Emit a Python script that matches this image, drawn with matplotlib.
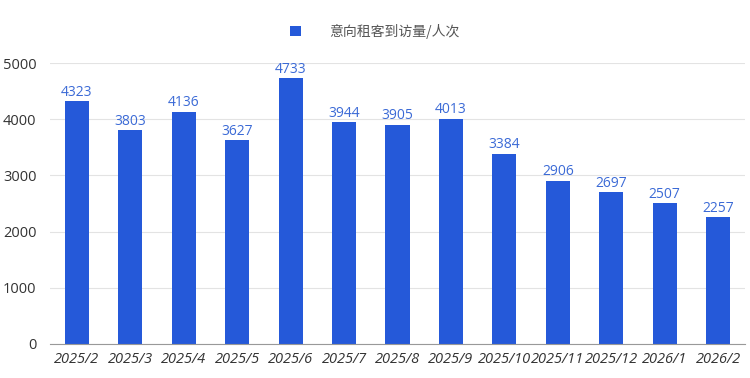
import matplotlib
matplotlib.use('Agg')
import matplotlib.pyplot as plt
import numpy as np

plt.rcParams['font.family'] = ['Open Sans', 'Noto Sans CJK SC', 'DejaVu Sans']

MONTHS = ['2025/2', '2025/3', '2025/4', '2025/5', '2025/6', '2025/7', '2025/8',
          '2025/9', '2025/10', '2025/11', '2025/12', '2026/1', '2026/2']
VISITS = [4323, 3803, 4136, 3627, 4733, 3944, 3905, 4013, 3384, 2906, 2697, 2507, 2257]
SERIES = '意向租客到访量/人次'

BAR_COLOR = '#2559d9'


def visits_graph():
    fig = plt.figure(figsize=(7.5, 3.78), dpi=100)
    ax = fig.add_axes([0.067, 0.09, 0.926, 0.743])

    x = np.arange(len(MONTHS))
    bars = ax.bar(x, VISITS, width=0.45, color=BAR_COLOR, label=SERIES, zorder=3)
    for rect, v in zip(bars, VISITS):
        ax.text(rect.get_x() + rect.get_width() / 2, v + 25, str(v),
                ha='center', va='bottom', fontsize=10, color='#3b6ad6', zorder=4)

    ax.set_xlim(-0.5, len(MONTHS) - 0.5)
    ax.set_ylim(0, 5000)
    ax.set_yticks(range(0, 5001, 1000))
    ax.set_xticks(x)
    ax.set_xticklabels(MONTHS, fontstyle='italic')
    ax.tick_params(axis='both', length=0, labelsize=10.5, colors='#333333')
    ax.tick_params(axis='y', pad=10)
    ax.tick_params(axis='x', pad=6)
    ax.grid(axis='y', color='#e3e3e3', linewidth=0.8, zorder=0)
    for side in ['top', 'right', 'left']:
        ax.spines[side].set_visible(False)
    ax.spines['bottom'].set_color('#999999')
    ax.spines['bottom'].set_zorder(4)

    leg = fig.legend(loc='center', bbox_to_anchor=(0.5, 0.917), frameon=False,
                     fontsize=10, handlelength=0.8, handleheight=0.8,
                     handletextpad=2.0, labelcolor='#555555')
    for t in leg.get_texts():
        t.set_fontfamily(['Noto Sans CJK SC', 'DejaVu Sans'])

    fig.savefig('out.png')


if __name__ == "__main__":
    visits_graph()
